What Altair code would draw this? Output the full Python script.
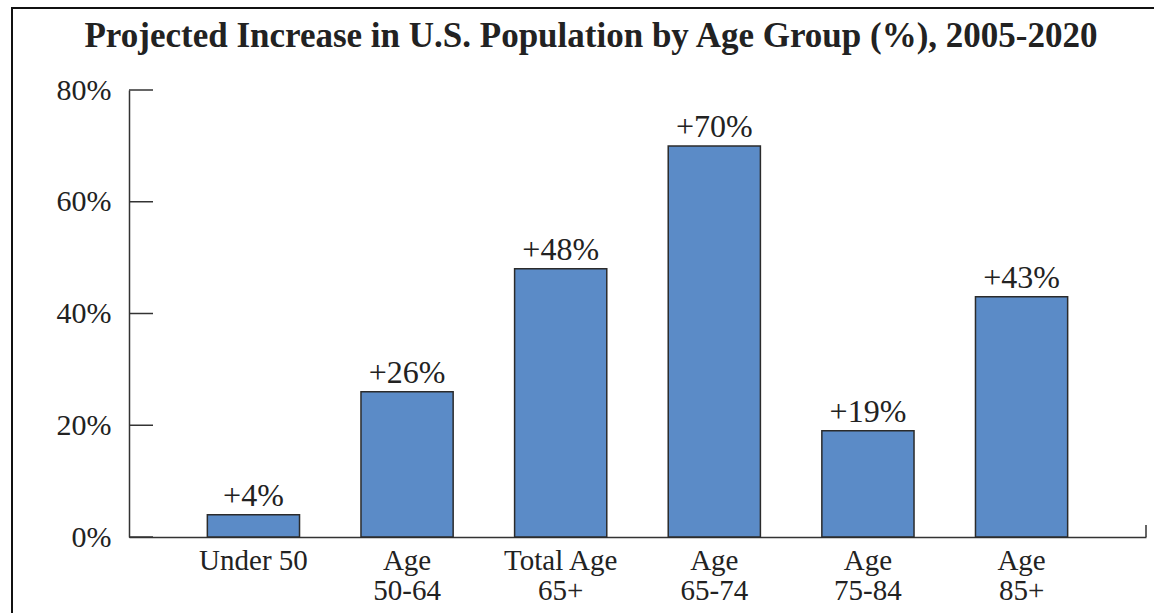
import altair as alt
import pandas as pd

categories = ["Under 50", "Age\n50-64", "Total Age\n65+", "Age\n65-74", "Age\n75-84", "Age\n85+"]
values = [4, 26, 48, 70, 19, 43]
tick_values = [0, 20, 40, 60, 80]
title_text = "Projected Increase in U.S. Population by Age Group (%), 2005-2020"

df = pd.DataFrame({"cat": categories, "val": values})
df["label"] = ["+" + str(v) + "%" for v in values]
ticks_df = pd.DataFrame({"t": tick_values})
title_df = pd.DataFrame({"title": [title_text]})

W, H = 1017, 447
FONT = "Liberation Serif"

xenc = alt.X("cat:N", sort=categories,
             scale=alt.Scale(paddingInner=0.4, paddingOuter=0.51),
             axis=alt.Axis(title=None, labelAngle=0, ticks=False, domainColor="#333",
                           domainWidth=1.5, labelFont=FONT, labelFontSize=29,
                           labelColor="#222", labelPadding=9, labelLineHeight=30,
                           labelExpr="split(datum.label, '\\n')"))
yscale = alt.Scale(domain=[0, 80], nice=False)

bars = alt.Chart(df).mark_bar(color="#5b8bc7", stroke="#2b2b2b", strokeWidth=1.5).encode(
    x=xenc,
    y=alt.Y("val:Q", scale=yscale,
            axis=alt.Axis(title=None, values=tick_values, ticks=False, grid=False,
                          domainColor="#333", domainWidth=1.5, labelFont=FONT,
                          labelFontSize=30, labelColor="#222", labelPadding=18,
                          labelExpr="datum.value + '%'")),
)

texts = alt.Chart(df).mark_text(baseline="alphabetic", dy=-9, font=FONT, fontSize=32,
                                color="#222").encode(
    x=alt.X("cat:N", sort=categories), y=alt.Y("val:Q", scale=yscale), text="label:N")

yticks = alt.Chart(ticks_df).mark_rule(color="#333", strokeWidth=1.5).encode(
    y=alt.Y("t:Q", scale=yscale), x=alt.value(0), x2=alt.value(24))

end_tick = alt.Chart(ticks_df.head(1)).mark_rule(color="#333", strokeWidth=1.5).encode(
    x=alt.value(W), y=alt.value(H), y2=alt.value(H - 12))

frame_left = alt.Chart(ticks_df.head(1)).mark_rule(color="#111", strokeWidth=2).encode(
    x=alt.value(-117), y=alt.value(-82), y2=alt.value(H + 80))
frame_top = alt.Chart(ticks_df.head(1)).mark_rule(color="#111", strokeWidth=2).encode(
    y=alt.value(-82), x=alt.value(-118), x2=alt.value(W + 30))

title = alt.Chart(title_df).mark_text(font=FONT, fontSize=35, fontWeight="bold",
                                      color="#222", baseline="alphabetic",
                                      align="center").encode(
    x=alt.value(462), y=alt.value(-43), text="title:N")

chart = alt.layer(bars, texts, yticks, end_tick, frame_left, frame_top, title).properties(
    width=W, height=H,
    autosize=alt.AutoSizeParams(type="none"),
    padding={"left": 129, "top": 90, "right": 8, "bottom": 76},
).configure(background="white").configure_view(stroke=None)

chart.save("out.html", embed_options={"renderer": "svg", "actions": False})
